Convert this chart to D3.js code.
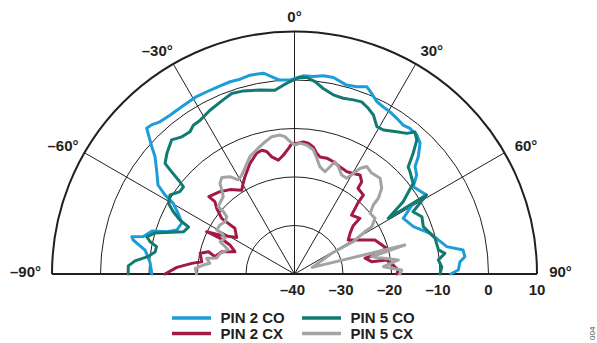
<!DOCTYPE html>
<html>
<head>
<meta charset="utf-8">
<script src="https://cdn.jsdelivr.net/npm/d3@7"></script>
<style>
  html, body { margin: 0; padding: 0; background: #fff; }
  svg { display: block; font-family: "Liberation Sans", Arial, sans-serif; font-weight: bold; }
</style>
</head>
<body>
<div id="chart"></div>
<script>
// radiation pattern, [angle in degrees, level in dB]
const pin2Co = [[-90,-10.6],[-85.3,-10.1],[-80.9,-8.8],[-78.1,-6.0],[-77.1,-5.6],[-76.1,-7.9],[-73.2,-9.3],[-71.7,-12.3],[-69.5,-14.1],[-65.6,-14.5],[-62.4,-12.9],[-59.7,-11.0],[-58.6,-8.7],[-56.9,-6.4],[-53.0,-4.4],[-49.9,-2.4],[-48.3,-0.6],[-45.4,2.8],[-43.8,2.6],[-41.5,1.9],[-38.1,1.6],[-34.0,1.6],[-28.9,1.8],[-25.7,1.7],[-22.1,1.7],[-18.5,1.8],[-15.6,1.7],[-12.6,2.0],[-8.8,1.9],[-6.2,0.8],[-4.3,0.1],[-1.3,0.0],[2.5,0.9],[5.4,0.9],[8.3,1.3],[11.2,1.3],[15.4,0.4],[18.4,0.7],[21.1,1.4],[23.1,0.5],[25.5,-0.6],[28.0,-1.0],[30.5,-1.2],[33.3,-1.6],[36.1,-2.0],[38.4,-1.7],[41.3,-1.8],[43.8,-2.6],[46.5,-4.8],[48.3,-6.7],[51.0,-7.6],[53.7,-9.6],[59.1,-8.3],[59.2,-11.5],[62.9,-14.8],[68.3,-13.6],[73.3,-10.8],[79.8,-8.1],[81.9,-4.9],[84.2,-4.7],[85.8,-5.8],[88.6,-6.2],[90,-7.8]];

const pin5Co = [[-90,-5.7],[-87.2,-5.7],[-85.3,-7.0],[-83.4,-9.4],[-81.0,-10.9],[-78.8,-11.0],[-77.4,-9.5],[-75.9,-8.6],[-73.6,-10.0],[-72.2,-12.0],[-69.2,-15.5],[-66.1,-16.1],[-64.8,-13.9],[-62.8,-11.9],[-60.7,-10.2],[-57.6,-9.6],[-54.3,-10.9],[-51.9,-10.9],[-51.0,-9.2],[-50.1,-6.6],[-49.5,-4.9],[-46.6,-3.8],[-42.5,-2.5],[-39.4,-3.4],[-36.3,-3.6],[-34.2,-2.9],[-31.5,-2.8],[-27.3,-2.0],[-22.3,-1.2],[-19.2,-0.6],[-15.6,-0.8],[-10.6,-1.4],[-6.1,-1.9],[-3.4,-1.0],[-1.3,-0.3],[1.6,0.6],[3.6,0.6],[6.1,-0.1],[8.8,-1.3],[12.2,-2.2],[15.5,-2.4],[18.7,-2.1],[21.3,-1.9],[24.0,-2.6],[26.4,-3.4],[29.2,-5.2],[31.7,-5.1],[35.7,-3.9],[38.6,-2.9],[40.3,-1.6],[42.4,-2.6],[44.5,-5.1],[46.7,-7.8],[48.5,-8.2],[52.6,-9.2],[56.4,-13.1],[59.3,-17.5],[59.1,-8.3],[62.3,-12.4],[65.8,-11.2],[69.8,-11.7],[75.7,-10.1],[80.5,-9.9],[82.2,-8.7],[84.4,-10.2],[87.2,-9.6],[90,-10.0]];

const pin2Cx = [[-90,-13.3],[-86.8,-15.7],[-84.1,-18.7],[-82.5,-20.7],[-77.6,-20.1],[-75.5,-21.7],[-77.7,-23.2],[-73.0,-24.3],[-69.5,-26.9],[-65.8,-25.4],[-64.5,-23.7],[-64.2,-21.0],[-64.3,-19.9],[-62.4,-22.7],[-57.7,-25.9],[-52.5,-24.5],[-52.6,-22.8],[-52.6,-21.1],[-49.8,-19.0],[-47.7,-17.8],[-47.9,-16.2],[-42.2,-17.1],[-37.4,-18.1],[-32.2,-19.6],[-29.5,-18.5],[-27.0,-17.5],[-21.9,-15.4],[-17.4,-13.9],[-14.8,-13.6],[-12.8,-14.1],[-11.0,-15.4],[-8.1,-16.3],[-5.4,-15.4],[-2.8,-14.1],[-1.2,-13.1],[1.0,-13.1],[3.8,-12.7],[6.0,-12.9],[8.4,-13.5],[10.4,-14.7],[12.3,-15.3],[15.6,-15.2],[19.1,-15.5],[23.0,-16.0],[27.0,-16.3],[30.3,-16.0],[33.5,-15.5],[36.1,-16.5],[36.5,-18.0],[41.1,-18.4],[41.8,-20.4],[44.1,-23.1],[49.6,-22.3],[50.6,-24.4],[53.8,-25.8],[57.7,-26.9],[62.0,-25.1],[67.1,-22.0],[74.4,-20.3],[76.7,-23.0],[77.4,-25.1],[80.9,-23.9],[81.4,-20.8],[84.8,-19.6],[87.8,-18.6],[90,-18.9]];

const pin5Cx = [[-90,-19.8],[-86.7,-19.5],[-84.4,-21.1],[-82.8,-22.4],[-79.9,-21.6],[-78.4,-23.6],[-74.5,-24.1],[-69.8,-25.4],[-67.8,-24.2],[-66.6,-23.3],[-62.8,-23.9],[-60.8,-22.8],[-60.5,-21.6],[-56.7,-21.6],[-53.0,-22.1],[-49.8,-21.7],[-48.8,-20.5],[-48.6,-19.0],[-42.6,-18.3],[-40.9,-17.1],[-39.4,-15.8],[-37.0,-15.1],[-33.6,-15.9],[-30.9,-17.4],[-28.1,-16.9],[-25.1,-15.9],[-20.8,-14.1],[-16.1,-13.0],[-12.6,-12.1],[-9.4,-11.3],[-6.0,-11.2],[-4.0,-11.6],[-1.9,-12.7],[0.2,-13.4],[2.4,-13.0],[5.4,-13.3],[8.6,-14.1],[10.9,-15.7],[13.4,-17.3],[16.6,-18.0],[18.3,-16.7],[19.8,-15.4],[22.2,-16.1],[25.5,-17.4],[28.6,-17.5],[30.3,-16.0],[31.8,-14.4],[33.9,-13.3],[37.4,-13.8],[41.8,-13.5],[45.5,-14.8],[47.9,-16.7],[48.8,-18.4],[51.2,-20.0],[55.3,-19.8],[58.5,-21.3],[59.0,-23.1],[61.2,-26.2],[60.9,-31.2],[69.6,-36.1],[75.3,-16.5],[77.4,-23.7],[82.3,-18.4],[85.3,-21.6],[87.9,-17.9],[90,-18.3]];

const radialTicks = [-40, -30, -20, -10, 0, 10];
const angleTicks = [-90, -60, -30, 0, 30, 60, 90];

const series = [
  { name: 'PIN 2 CO', data: pin2Co, color: '#1c9dd9' },
  { name: 'PIN 5 CO', data: pin5Co, color: '#117b72' },
  { name: 'PIN 2 CX', data: pin2Cx, color: '#a31942' },
  { name: 'PIN 5 CX', data: pin5Cx, color: '#a3a3a3' }
];

const W = 597, H = 343;
const cx = 294.5, cy = 274, R = 242.5;
const ink = '#231f20';

const svg = d3.select('#chart').append('svg')
  .attr('width', W).attr('height', H)
  .attr('viewBox', `0 0 ${W} ${H}`);

const g = svg.append('g').attr('transform', `translate(${cx},${cy})`);

const rScale = d3.scaleLinear().domain([-40, 10]).range([0, R]);
const rad = d => d * Math.PI / 180;
const fmt = v => (v < 0 ? '\u2013' : '') + Math.abs(v);

// half rings
radialTicks.filter(v => v > -40).forEach(v => {
  const p = d3.path();
  p.arc(0, 0, rScale(v), Math.PI, 2 * Math.PI);
  g.append('path')
    .attr('d', p.toString())
    .attr('fill', 'none')
    .attr('stroke', ink)
    .attr('stroke-width', v === 10 ? 2 : 1);
});

// spokes
g.selectAll('line.spoke')
  .data(angleTicks.filter(a => Math.abs(a) < 90))
  .enter().append('line')
  .attr('class', 'spoke')
  .attr('x1', 0).attr('y1', 0)
  .attr('x2', a => R * Math.sin(rad(a)))
  .attr('y2', a => -R * Math.cos(rad(a)))
  .attr('stroke', ink).attr('stroke-width', 1);

// baseline (-90 to 90)
g.append('line')
  .attr('x1', -R).attr('x2', R).attr('y1', 0).attr('y2', 0)
  .attr('stroke', ink).attr('stroke-width', 2);

// data lines
const lineMkr = d3.lineRadial()
  .angle(d => rad(d[0]))
  .radius(d => rScale(d[1]));

g.selectAll('path.trace')
  .data(series)
  .enter().append('path')
  .attr('class', 'trace')
  .attr('d', s => lineMkr(s.data))
  .attr('fill', 'none')
  .attr('stroke', s => s.color)
  .attr('stroke-width', 3)
  .attr('stroke-linejoin', 'round')
  .attr('stroke-linecap', 'round');

// radial tick labels
g.selectAll('text.rtick')
  .data(radialTicks)
  .enter().append('text')
  .attr('class', 'rtick')
  .attr('x', v => rScale(v) - (v < 0 ? 2 : 0))
  .attr('y', 20.5)
  .attr('text-anchor', 'middle')
  .attr('font-size', 15)
  .attr('fill', ink)
  .text(fmt);

// angle labels
g.selectAll('text.atick')
  .data(angleTicks)
  .enter().append('text')
  .attr('class', 'atick')
  .attr('x', a => (R + 15) * Math.sin(rad(a)) + Math.sign(a) * 8.5 - (a === -90 ? 3 : 0))
  .attr('y', a => -(R + 15) * Math.cos(rad(a)) - (Math.abs(a) === 90 ? 2 : 0))
  .attr('dy', '0.36em')
  .attr('text-anchor', 'middle')
  .attr('font-size', 15)
  .attr('fill', ink)
  .text(a => fmt(a) + '\u00b0');

// legend
const legend = svg.append('g');
const legItems = legend.selectAll('g')
  .data(series)
  .enter().append('g')
  .attr('transform', (s, i) => `translate(${i % 2 ? 302 : 172},${i < 2 ? 318 : 333.5})`);

legItems.append('line')
  .attr('x1', 0).attr('x2', 39)
  .attr('stroke', s => s.color)
  .attr('stroke-width', 3.5);

legItems.append('text')
  .attr('x', 48.5)
  .attr('y', 5)
  .attr('font-size', 15)
  .attr('fill', ink)
  .text(s => s.name);

// figure number at the right edge
svg.append('text')
  .attr('transform', 'translate(595,340) rotate(-90)')
  .attr('text-anchor', 'start')
  .attr('font-size', 8)
  .attr('font-weight', 'normal')
  .attr('fill', '#555')
  .text('004');
</script>
</body>
</html>
